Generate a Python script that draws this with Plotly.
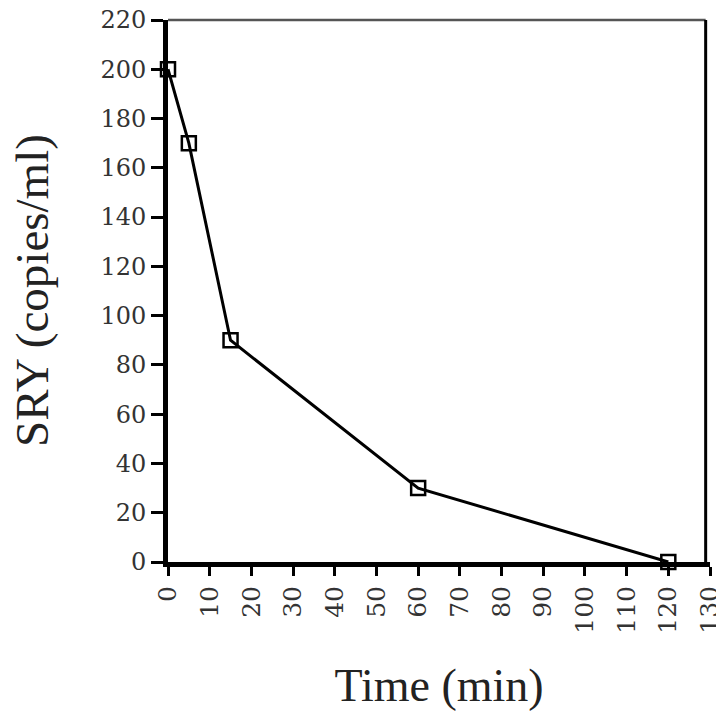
import plotly.graph_objects as go

time_min = [0, 5, 15, 60, 120]
sry_copies = [200, 170, 90, 30, 0]
x_ticks = list(range(0, 140, 10))
y_ticks = list(range(0, 240, 20))

fig = go.Figure()
fig.add_trace(go.Scatter(
    x=time_min, y=sry_copies, mode="lines+markers",
    line=dict(color="black", width=3),
    marker=dict(symbol="square-open", size=14, color="black", line=dict(width=2.5)),
    cliponaxis=False, showlegend=False,
))

serif = "Liberation Serif"
tickserif = "DejaVu Serif"
fig.update_layout(
    width=724, height=712,
    margin=dict(l=160, r=22, t=12, b=158, autoexpand=False),
    paper_bgcolor="white", plot_bgcolor="white",
    font=dict(family=serif, color="black"),
    shapes=[
        dict(type="line", xref="paper", yref="paper", x0=0, x1=0.992, y0=1, y1=1,
             line=dict(color="#555", width=2.5)),
        dict(type="line", xref="paper", yref="paper", x0=0.992, x1=0.992, y0=0, y1=1,
             line=dict(color="black", width=3)),
    ],
    annotations=[
        dict(text="SRY (copies/ml)", xref="paper", yref="paper", x=0, y=0.5,
             xanchor="center", yanchor="middle", xshift=-136, textangle=-90,
             showarrow=False, font=dict(family=serif, size=47, color="#222")),
    ],
)
fig.update_xaxes(
    range=[0, 130], tickvals=x_ticks, ticktext=[str(v) for v in x_ticks],
    tickangle=-90, ticks="outside", ticklen=9, tickwidth=2.5, tickcolor="black",
    showline=True, linecolor="black", linewidth=5, showgrid=False, zeroline=False,
    automargin=False, ticklabeloverflow="allow",
    tickfont=dict(family=tickserif, size=25, color="#333"),
    title=dict(text="Time (min)", font=dict(family=serif, size=46, color="#222"), standoff=38),
)
fig.update_yaxes(
    range=[0, 220], tickvals=y_ticks, ticktext=[str(v) for v in y_ticks],
    ticks="outside", ticklen=12, tickwidth=2.5, tickcolor="black",
    showline=True, linecolor="black", linewidth=5, showgrid=False, zeroline=False,
    automargin=False, ticklabeloverflow="allow",
    tickfont=dict(family=tickserif, size=24, color="#333"),
)

fig.write_html("out.html")
